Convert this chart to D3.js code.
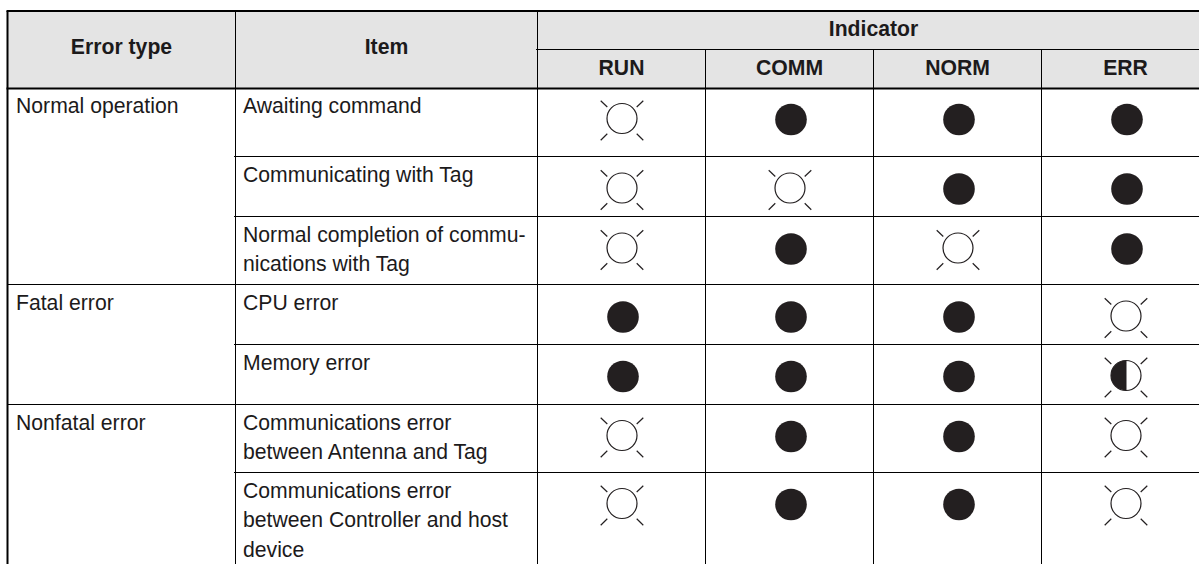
<!DOCTYPE html>
<html>
<head>
<meta charset="utf-8">
<script src="https://cdn.jsdelivr.net/npm/d3@7"></script>
<style>
  html, body { margin: 0; padding: 0; background: #fff; overflow: hidden; }
  text { font-family: "Liberation Sans", Arial, sans-serif; fill: #1c1a1b; font-size: 21.2px; }
</style>
</head>
<body>
<script>
'use strict';

// table content
const indicators = ["RUN", "COMM", "NORM", "ERR"];
const errorGroups = ["Normal operation", "Fatal error", "Nonfatal error"];
const groupFirstRow = [0, 3, 5];
const items = [
  ["Awaiting command"],
  ["Communicating with Tag"],
  ["Normal completion of commu-", "nications with Tag"],
  ["CPU error"],
  ["Memory error"],
  ["Communications error", "between Antenna and Tag"],
  ["Communications error", "between Controller and host", "device"]
];
// L = lit, O = off, H = half (flashing)
const states = [
  ["L", "O", "O", "O"],
  ["L", "L", "O", "O"],
  ["L", "O", "L", "O"],
  ["O", "O", "O", "L"],
  ["O", "O", "O", "H"],
  ["L", "O", "O", "L"],
  ["L", "O", "O", "L"]
];

// grid positions
const rowEdges = [88.5, 156.5, 216.5, 284.5, 344.5, 404.5, 472.5, 564];
const lampOffset = [30, 31.5, 31.5, 31.5, 31, 31, 31];
const left = 7.5, col1 = 235.5, col2 = 537.5, right = 1199;
const headTop = 11, headMid = 49.5;
const ink = "#231f20";

const svg = d3.select("body").append("svg")
  .attr("width", 1199)
  .attr("height", 564)
  .style("display", "block");

// the four indicator columns run past the right edge of the page
const xIndicator = d3.scaleBand()
  .domain(indicators)
  .range([col2, col2 + 672]);
const indicatorCentre = (name) => xIndicator(name) + xIndicator.bandwidth() / 2;

// header background
svg.append("rect")
  .attr("x", left).attr("y", headTop)
  .attr("width", right - left).attr("height", rowEdges[0] - headTop)
  .attr("fill", "#e4e4e4");

function rule(x1, y1, x2, y2, w) {
  svg.append("line")
    .attr("x1", x1).attr("y1", y1).attr("x2", x2).attr("y2", y2)
    .attr("stroke", "#000").attr("stroke-width", w);
}

// horizontal rules
rule(left - 1, headTop, right, headTop, 2);
rule(left - 1, rowEdges[0], right, rowEdges[0], 2);
rule(col2 - 1.5, headMid, right, headMid, 1);
rowEdges.slice(1, -1).forEach((y, i) => {
  const full = groupFirstRow.includes(i + 1);
  rule(full ? left : col1 - 1.5, y, right, y, 1);
});

// vertical rules
rule(left, headTop, left, 564, 2);
rule(col1, headTop, col1, 564, 1);
rule(col2, headTop, col2, 564, 1);
indicators.slice(1).forEach((name) => {
  rule(xIndicator(name), headMid, xIndicator(name), 564, 1);
});

// header text
function headText(x, y, s) {
  svg.append("text")
    .attr("x", x).attr("y", y)
    .attr("text-anchor", "middle")
    .style("font-weight", "bold")
    .text(s);
}
headText((left + col1) / 2, 54, "Error type");
headText((col1 + col2) / 2, 54, "Item");
headText(indicatorCentre("NORM") - 84, 36, "Indicator");
indicators.forEach((name) => headText(indicatorCentre(name), 75, name));

// body text
const lineStep = 29.6;
errorGroups.forEach((name, i) => {
  const r = groupFirstRow[i];
  svg.append("text")
    .attr("x", 16).attr("y", rowEdges[r] + (r === 0 ? 24.5 : 25))
    .text(name);
});
items.forEach((lines, r) => {
  lines.forEach((s, k) => {
    svg.append("text")
      .attr("x", 243).attr("y", rowEdges[r] + (r === 0 ? 24.5 : 25) + k * lineStep)
      .text(s);
  });
});

// lamp symbols
const halfDisc = d3.arc().innerRadius(0).outerRadius(15);
const rays = [
  [-21.3, -17.7, -14.7, -11.5], [21.3, -17.7, 14.7, -11.5],
  [-21.3, 21.7, -14.7, 15.3], [21.3, 21.7, 14.7, 15.3]
];
function drawLamp(cx, cy, state) {
  const g = svg.append("g").attr("transform", `translate(${cx},${cy})`);
  if (state === "O") {
    g.append("circle").attr("cx", 1).attr("cy", 1).attr("r", 15.8).attr("fill", ink);
    return;
  }
  if (state === "H") {
    g.append("path")
      .attr("d", halfDisc({ startAngle: Math.PI, endAngle: 2 * Math.PI }))
      .attr("fill", ink);
    g.append("line").attr("y1", -15).attr("y2", 15).attr("stroke", ink).attr("stroke-width", 1);
  }
  g.append("circle").attr("r", 15)
    .attr("fill", "none").attr("stroke", ink).attr("stroke-width", 1.2);
  g.selectAll("line.ray").data(rays).enter().append("line")
    .attr("class", "ray")
    .attr("x1", (d) => d[0]).attr("y1", (d) => d[1])
    .attr("x2", (d) => d[2]).attr("y2", (d) => d[3])
    .attr("stroke", ink).attr("stroke-width", 1.2);
}

states.forEach((row, r) => {
  row.forEach((state, c) => {
    drawLamp(indicatorCentre(indicators[c]) + 0.5, rowEdges[r] + lampOffset[r], state);
  });
});
</script>
</body>
</html>
